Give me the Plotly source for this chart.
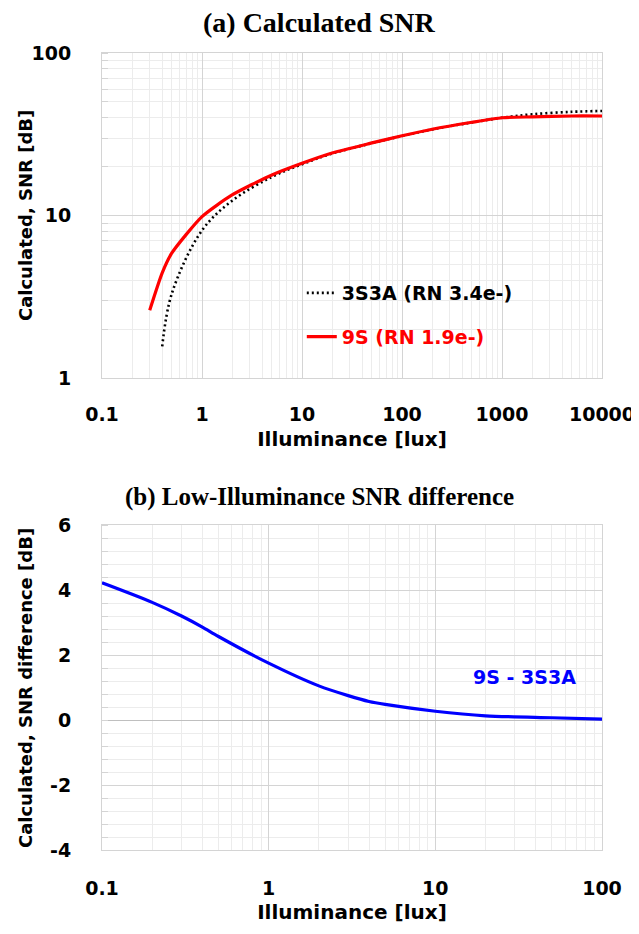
import plotly.graph_objects as go

# ---- data ----
lux_9s = [0.3, 0.4, 0.5, 1, 2, 5, 10, 20, 50, 100, 200, 500, 1000, 2000, 5000, 10000]
snr_9s = [2.62, 4.45, 5.9, 9.86, 13.4, 17.8, 21.0, 24.3, 28.0, 31.0, 34.0, 37.5, 40.0, 40.5, 41.0, 41.0]

lux_3s3a = [0.4, 0.5, 1, 2, 5, 10, 20, 50, 100, 200, 500, 1000, 2000, 5000, 10000]
snr_3s3a = [1.57, 3.33, 8.11, 12.35, 17.3, 20.7, 24.1, 27.9, 30.9, 33.9, 37.4, 40.0, 42.0, 43.5, 44.0]

lux_diff = [0.1, 0.2, 0.3, 0.4, 0.5, 1, 2, 3, 4, 5, 10, 20, 50, 100]
snr_diff = [4.22, 3.62, 3.2, 2.86, 2.57, 1.75, 1.05, 0.75, 0.57, 0.48, 0.27, 0.13, 0.07, 0.03]

top_x_ticks = [0.1, 1, 10, 100, 1000, 10000]
top_x_text = ["0.1", "1", "10", "100", "1000", "10000"]
top_y_ticks = [1, 10, 100]
top_y_text = ["1", "10", "100"]
bot_x_ticks = [0.1, 1, 10, 100]
bot_x_text = ["0.1", "1", "10", "100"]
bot_y_ticks = [-4, -2, 0, 2, 4, 6]
bot_y_text = ["-4", "-2", "0", "2", "4", "6"]

name_3s3a = "3S3A (RN 3.4e-)"
name_9s = "9S (RN 1.9e-)"
label_diff = "9S - 3S3A"

# the page body adds an 8px offset, so the figure is laid out 8px smaller
OFF = 8
W, H = 639 - OFF, 934 - OFF
ML, MT = 102 - OFF, 53 - OFF
MR = W - (602.5 - OFF)
MB = H - (850 - OFF)
PW, PH = W - ML - MR, H - MT - MB


def px2x(px):
    return (px - OFF - ML) / PW


def py2y(py):
    return 1 - (py - OFF - MT) / PH


FONT = "DejaVu Sans"
SERIF = "Liberation Serif"
MAJOR = "#d4d4d4"
MINOR = "#ececec"

fig = go.Figure()
fig.add_trace(go.Scatter(x=lux_3s3a, y=snr_3s3a, mode="lines", name=name_3s3a,
                         legendgroup="a", xaxis="x", yaxis="y",
                         line=dict(color="black", width=2.6, dash="2px,3px", shape="spline")))
fig.add_trace(go.Scatter(x=lux_9s, y=snr_9s, mode="lines",
                         name="<span style='color:#ff0000'>" + name_9s + "</span>",
                         legendgroup="b", xaxis="x", yaxis="y",
                         line=dict(color="#ff0000", width=3.2, shape="spline", smoothing=0.6)))
fig.add_trace(go.Scatter(x=lux_diff, y=snr_diff, mode="lines", showlegend=False,
                         xaxis="x2", yaxis="y2",
                         line=dict(color="#0000ff", width=3.2, shape="spline", smoothing=0.8)))

tickfont = dict(family=FONT, size=19, color="black", weight="bold")
ax_common = dict(showline=True, linecolor=MAJOR, linewidth=1, mirror=True,
                 showgrid=True, gridcolor=MAJOR, gridwidth=1, zeroline=False,
                 ticks="", tickfont=tickfont, automargin=False)
xtitle_font = dict(family=FONT, size=20, weight="bold", color="black")
ytitle_font = dict(family=FONT, size=18, weight="bold", color="black")

fig.update_layout(
    width=W, height=H, margin=dict(l=ML, r=MR, t=MT, b=MB, autoexpand=False),
    paper_bgcolor="white", plot_bgcolor="white",
    font=dict(family=FONT, color="black"),
    xaxis=dict(ax_common, type="log", range=[-1, 4], domain=[0, 1], anchor="y",
               tickvals=top_x_ticks, ticktext=top_x_text, ticklabelstandoff=19,
               minor=dict(dtick="D1", showgrid=True, gridcolor=MINOR, ticks=""),
               title=dict(text="Illuminance [lux]", font=xtitle_font, standoff=7)),
    yaxis=dict(ax_common, type="log", range=[0, 2], domain=[py2y(378.3), 1], anchor="x",
               tickvals=top_y_ticks, ticktext=top_y_text, ticklabelstandoff=26,
               minor=dict(dtick="D1", showgrid=True, gridcolor=MINOR, ticks="inside", ticklen=6, tickcolor=MAJOR)),
    xaxis2=dict(ax_common, type="log", range=[-1, 2], domain=[0, 1], anchor="y2",
                tickvals=bot_x_ticks, ticktext=bot_x_text, ticklabelstandoff=21,
                minor=dict(dtick="D1", showgrid=True, gridcolor=MINOR, ticks=""),
                title=dict(text="Illuminance [lux]", font=xtitle_font, standoff=7)),
    yaxis2=dict(ax_common, range=[-4, 6], domain=[0, py2y(525)], anchor="x2",
                tickvals=bot_y_ticks, ticktext=bot_y_text, ticklabelstandoff=26,
                zeroline=True, zerolinecolor="#bfbfbf", zerolinewidth=1,
                minor=dict(dtick=0.4, showgrid=True, gridcolor=MINOR, ticks="inside", ticklen=6, tickcolor=MAJOR)),
    legend=dict(x=px2x(302), y=py2y(274), xanchor="left", yanchor="top",
                bgcolor="rgba(0,0,0,0)", font=dict(family=FONT, size=19, color="black", weight="bold"),
                traceorder="grouped", tracegroupgap=16, itemwidth=30),
    annotations=[
        dict(text="(a) Calculated SNR", x=px2x(320), y=py2y(22), xref="paper", yref="paper",
             xanchor="center", yanchor="middle", showarrow=False,
             font=dict(family=SERIF, size=28, weight="bold", color="black")),
        dict(text="(b) Low-Illuminance SNR difference", x=px2x(320), y=py2y(497), xref="paper", yref="paper",
             xanchor="center", yanchor="middle", showarrow=False,
             font=dict(family=SERIF, size=25, weight="bold", color="black")),
        dict(text="Calculated, SNR [dB]", x=px2x(25), y=py2y(216), xref="paper", yref="paper",
             xanchor="center", yanchor="middle", showarrow=False, textangle=-90,
             font=ytitle_font),
        dict(text="Calculated, SNR difference [dB]", x=px2x(25), y=py2y(688), xref="paper", yref="paper",
             xanchor="center", yanchor="middle", showarrow=False, textangle=-90,
             font=ytitle_font),
        dict(text=label_diff, x=px2x(525), y=py2y(677), xref="paper", yref="paper",
             xanchor="center", yanchor="middle", showarrow=False,
             font=dict(family=FONT, size=19, weight="bold", color="#0000ff")),
    ],
)

fig.write_html("out.html")
